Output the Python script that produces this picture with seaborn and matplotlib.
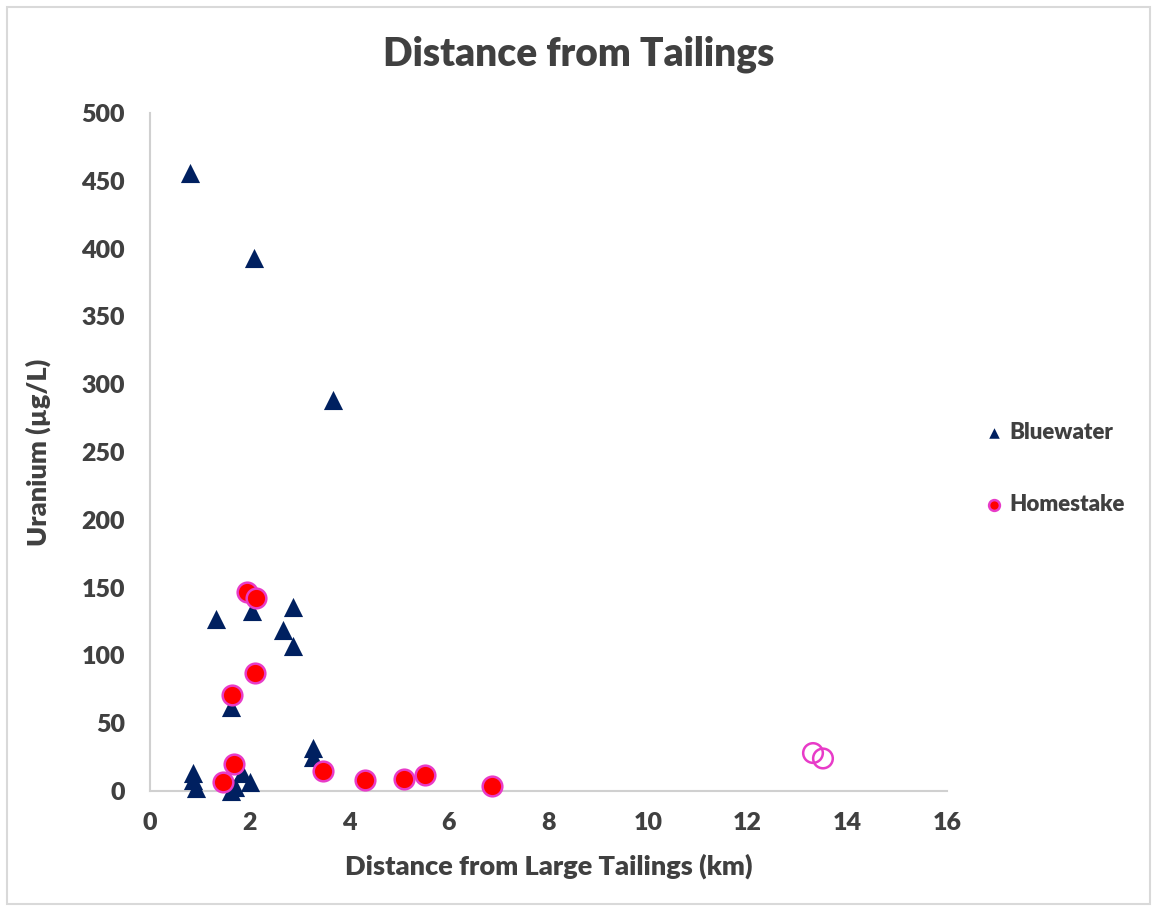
import pandas as pd
import matplotlib.pyplot as plt
import seaborn as sns
from matplotlib.patches import Rectangle

# Bluewater wells
blue_km = [0.80, 2.09, 3.67, 1.33, 2.05, 2.87, 2.67, 2.87, 1.63, 0.87, 0.87, 0.92, 1.63, 1.70, 1.85, 2.00, 3.27, 3.27]
blue_u = [456, 393, 288, 127, 133, 136, 119, 107, 62, 13, 8, 2, 0, 3, 13, 7, 32, 25]

# Homestake wells
home_km = [1.94, 2.13, 2.11, 1.64, 1.69, 1.47, 3.48, 4.32, 5.10, 5.52, 6.87]
home_u = [147, 142, 87, 71, 20, 7, 15, 8, 9, 12, 4]

# Homestake, far points (open markers, no legend entry)
far_km = [13.31, 13.51]
far_u = [28, 24]

x_ticks = [0, 2, 4, 6, 8, 10, 12, 14, 16]
y_ticks = [0, 50, 100, 150, 200, 250, 300, 350, 400, 450, 500]

bluewater = pd.DataFrame({"km": blue_km, "u": blue_u})
homestake = pd.DataFrame({"km": home_km, "u": home_u})
far = pd.DataFrame({"km": far_km, "u": far_u})

sns.set_style("white")
plt.rcParams["font.family"] = ["Lato", "DejaVu Sans"]
W = "heavy"
plt.rcParams["font.weight"] = W

txt = "#404040"
fig = plt.figure(figsize=(11.57, 9.09), dpi=100)
ax = fig.add_axes([0.1296, 0.1298, 0.6889, 0.7459])

sns.scatterplot(x="km", y="u", data=bluewater, marker="^", s=190, color="#002060",
                edgecolor="#002060", linewidth=0, label="Bluewater", ax=ax, zorder=3, clip_on=False)
sns.scatterplot(x="km", y="u", data=homestake, marker="o", s=200, color="#FF0000",
                edgecolor="#E83BC8", linewidth=1.8, label="Homestake", ax=ax, zorder=4, clip_on=False)
sns.scatterplot(x="km", y="u", data=far, marker="o", s=200, facecolor="none",
                edgecolor="#E83BC8", linewidth=1.8, legend=False, ax=ax, zorder=4, clip_on=False)

ax.set_xlim(0, 16)
ax.set_ylim(0, 500)
ax.set_xticks(x_ticks)
ax.set_yticks(y_ticks)
ax.tick_params(length=0, labelsize=18, labelcolor=txt)
ax.tick_params(axis="x", pad=15)
ax.tick_params(axis="y", pad=18)
for lab in ax.get_xticklabels() + ax.get_yticklabels():
    lab.set_fontweight(W)

for side in ["top", "right"]:
    ax.spines[side].set_visible(False)
for side in ["left", "bottom"]:
    ax.spines[side].set_color("#D0D0D0")
    ax.spines[side].set_linewidth(1.5)

ax.set_xlabel("Distance from Large Tailings (km)", fontsize=19.5, fontweight=W, color=txt, labelpad=14)
ax.set_ylabel("Uranium (µg/L)", fontsize=19.5, fontweight=W, color=txt, labelpad=22)
fig.text(0.5, 0.94, "Distance from Tailings", ha="center", va="center",
         fontsize=28, fontweight=W, color=txt)

leg = ax.legend(loc="center left", bbox_to_anchor=(1.02, 0.476), frameon=False,
                fontsize=16, labelspacing=2.3, handletextpad=0.2, handlelength=1.0,
                markerscale=0.55)
for t in leg.get_texts():
    t.set_color(txt)
    t.set_fontweight(W)

fig.patches.append(Rectangle((0.006, 0.006), 0.988, 0.986, transform=fig.transFigure,
                             fill=False, edgecolor="#D9D9D9", linewidth=1.5))

fig.savefig("out.png", dpi=100)
